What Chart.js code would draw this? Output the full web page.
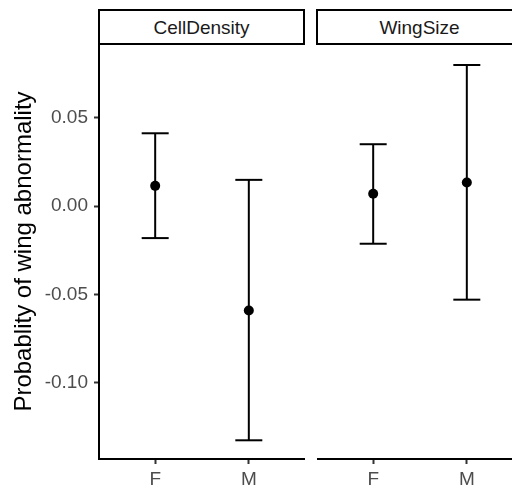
<!DOCTYPE html>
<html>
<head>
<meta charset="utf-8">
<script src="https://cdn.jsdelivr.net/npm/chart.js@4"></script>
<style>
  html, body { margin: 0; padding: 0; background: #fff; width: 512px; height: 488px; overflow: hidden; position: relative; }
  canvas { position: absolute; top: 0; }
  .strip { position: absolute; top: 9px; height: 36px; box-sizing: border-box; border: 2px solid #000; background: #fff;
           display: flex; align-items: center; justify-content: center; font-family: "Liberation Sans", Arial, sans-serif;
           font-size: 19px; color: #1A1A1A; padding-top: 2px; }
</style>
</head>
<body>
<canvas id="c1" width="305" height="488" style="left:0px"></canvas>
<canvas id="c2" width="206" height="488" style="left:317px"></canvas>
<div class="strip" id="s1" style="left:98px; width:207px;"></div>
<div class="strip" id="s2" style="left:316px; width:207px;"></div>
<script>
const panels = ['CellDensity', 'WingSize'];
const categories = ['F', 'M'];
const cellDensityEst  = [0.0115, -0.0591];
const cellDensityLow  = [-0.0181, -0.1327];
const cellDensityHigh = [0.0413, 0.0149];
const wingSizeEst  = [0.0070, 0.0134];
const wingSizeLow  = [-0.0213, -0.0530];
const wingSizeHigh = [0.0351, 0.0800];
const yTicks = [-0.10, -0.05, 0.00, 0.05];
const yTitle = 'Probablity of wing abnormality';

document.getElementById('s1').textContent = panels[0];
document.getElementById('s2').textContent = panels[1];

const FONT = '"Liberation Sans", Arial, sans-serif';

function makeChart(canvasId, est, low, high, showY) {
  const datasets = [];
  categories.forEach((c, i) => {
    datasets.push({ type: 'line', data: [{ x: i, y: low[i] }, { x: i, y: high[i] }], showLine: true,
      borderColor: '#000', borderWidth: 2, pointRadius: 0, fill: false, order: 3 });
  });
  const caps = [];
  categories.forEach((c, i) => { caps.push({ x: i, y: low[i] }); caps.push({ x: i, y: high[i] }); });
  datasets.push({ type: 'line', data: caps, showLine: false, pointStyle: 'line', pointRadius: 13.5,
    pointBorderWidth: 2, pointBorderColor: '#000', pointBackgroundColor: '#000', order: 2 });
  datasets.push({ type: 'line', data: categories.map((c, i) => ({ x: i, y: est[i] })), showLine: false,
    pointStyle: 'circle', pointRadius: 5, pointBorderWidth: 0, pointBackgroundColor: '#000', pointBorderColor: '#000', order: 1 });
  return new Chart(document.getElementById(canvasId), {
    type: 'scatter',
    data: { datasets },
    options: {
      responsive: false,
      animation: false,
      devicePixelRatio: 1,
      layout: { autoPadding: false, padding: { top: 44, left: 0, right: 0, bottom: 0 } },
      plugins: { legend: { display: false }, tooltip: { enabled: false } },
      scales: {
        x: {
          type: 'linear', min: -0.6, max: 1.6, offset: false,
          afterBuildTicks: s => { s.ticks = categories.map((c, i) => ({ value: i })); },
          afterFit: s => { s.height = 29; },
          ticks: { callback: v => categories[v], color: '#4D4D4D', font: { size: 19, family: FONT }, padding: 4, maxRotation: 0 },
          grid: { drawOnChartArea: false, offset: false, tickLength: 5, tickColor: '#333', tickWidth: 2 },
          border: { color: '#000', width: 2 }
        },
        y: {
          display: showY,
          min: -0.1433, max: 0.0919,
          afterBuildTicks: s => { s.ticks = yTicks.map(v => ({ value: v })); },
          afterFit: s => { s.width = showY ? 99 : 0; },
          ticks: { callback: v => v.toFixed(2), color: '#4D4D4D', font: { size: 19, family: FONT }, padding: 6 },
          grid: { drawOnChartArea: false, tickLength: 5, tickColor: '#333', tickWidth: 2 },
          border: { color: '#000', width: 2 },
          title: { display: showY, text: yTitle, color: '#000', font: { size: 24, family: FONT }, padding: { top: 10, bottom: 0 } }
        }
      }
    }
  });
}

makeChart('c1', cellDensityEst, cellDensityLow, cellDensityHigh, true);
makeChart('c2', wingSizeEst, wingSizeLow, wingSizeHigh, false);
</script>
</body>
</html>
